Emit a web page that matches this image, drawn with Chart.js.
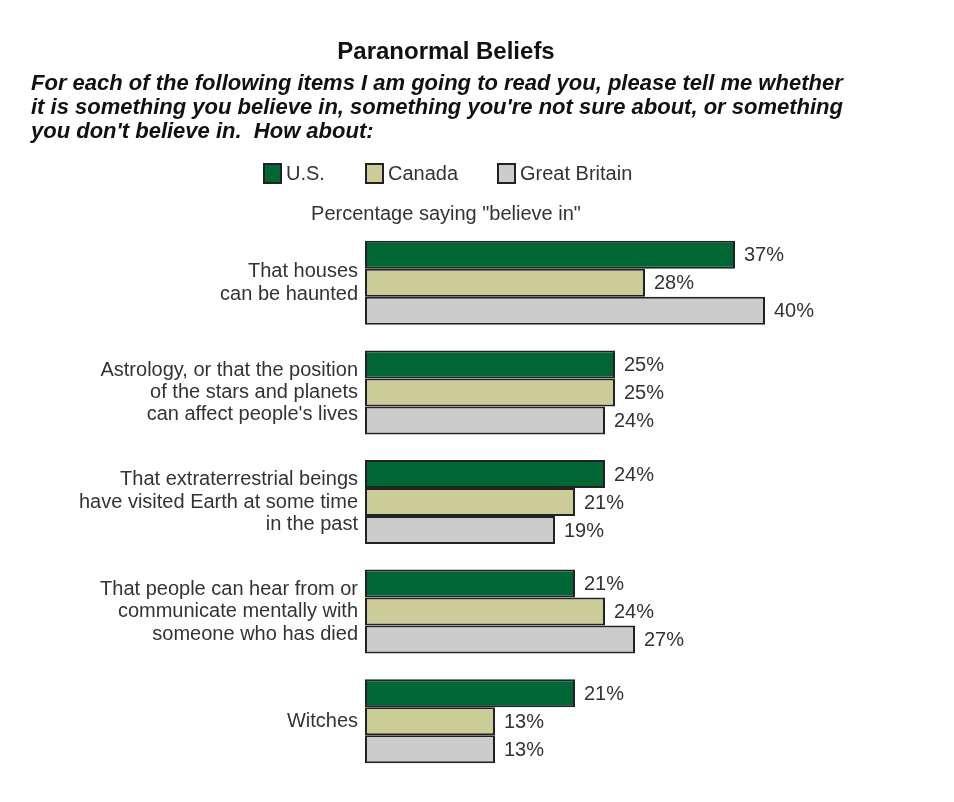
<!DOCTYPE html>
<html>
<head>
<meta charset="utf-8">
<script src="https://cdn.jsdelivr.net/npm/chart.js@4/dist/chart.umd.min.js"></script>
<style>
  body { margin: 0; background: #fff; }
  canvas { display: block; }
</style>
</head>
<body>
<canvas id="chart" width="954" height="802"></canvas>
<script>
// data
var categories = [
  ["That houses", "can be haunted"],
  ["Astrology, or that the position", "of the stars and planets", "can affect people's lives"],
  ["That extraterrestrial beings", "have visited Earth at some time", "in the past"],
  ["That people can hear from or", "communicate mentally with", "someone who has died"],
  ["Witches"]
];
var seriesNames = ["U.S.", "Canada", "Great Britain"];
var usValues = [37, 25, 24, 21, 21];
var canadaValues = [28, 25, 21, 24, 13];
var britainValues = [40, 24, 19, 27, 13];

var titleText = "Paranormal Beliefs";
var questionLines = [
  "For each of the following items I am going to read you, please tell me whether",
  "it is something you believe in, something you're not sure about, or something",
  "you don't believe in.  How about:"
];
var noteText = 'Percentage saying "believe in"';

var colours = ["#006633", "#cccc99", "#cccccc"];
var edge = "#222222";
var textColour = "#333333";
var font = "'Liberation Sans', Arial, sans-serif";

// header, legend and value labels
var extras = {
  id: 'extras',
  afterDraw: function(chart) {
    var ctx = chart.ctx;
    ctx.save();
    ctx.textBaseline = 'middle';

    ctx.fillStyle = '#111';
    ctx.textAlign = 'center';
    ctx.font = "bold 24px " + font;
    ctx.fillText(titleText, 446, 52);

    ctx.textAlign = 'left';
    ctx.font = "italic bold 22px " + font;
    for (var i = 0; i < questionLines.length; i++) {
      ctx.fillText(questionLines[i], 31, 84 + i * 24);
    }

    // legend
    var legendX = [263, 365, 497];
    ctx.font = "20px " + font;
    for (var s = 0; s < seriesNames.length; s++) {
      ctx.fillStyle = colours[s];
      ctx.fillRect(legendX[s], 163, 19, 21);
      ctx.strokeStyle = edge;
      ctx.lineWidth = 2;
      ctx.strokeRect(legendX[s] + 1, 164, 17, 19);
      ctx.fillStyle = textColour;
      ctx.fillText(seriesNames[s], legendX[s] + 23, 174);
    }

    ctx.textAlign = 'center';
    ctx.font = "20px " + font;
    ctx.fillStyle = textColour;
    ctx.fillText(noteText, 446, 214);

    // value labels
    ctx.textAlign = 'left';
    ctx.font = "20px " + font;
    chart.data.datasets.forEach(function(ds, d) {
      chart.getDatasetMeta(d).data.forEach(function(bar, j) {
        ctx.fillText(ds.data[j] + "%", bar.x + 9, bar.y + 1);
      });
    });
    ctx.restore();
  }
};

var datasets = [usValues, canadaValues, britainValues].map(function(vals, i) {
  return {
    label: seriesNames[i],
    data: vals,
    backgroundColor: colours[i],
    borderColor: edge,
    borderWidth: 2,
    borderSkipped: false,
    categoryPercentage: 0.766,
    barPercentage: 1.0
  };
});

new Chart(document.getElementById("chart"), {
  type: 'bar',
  data: { labels: categories, datasets: datasets },
  options: {
    indexAxis: 'y',
    responsive: false,
    animation: false,
    devicePixelRatio: 1,
    layout: { padding: { top: 228, bottom: 26, right: 89, left: 0 } },
    plugins: {
      legend: { display: false },
      tooltip: { enabled: false }
    },
    scales: {
      x: { display: false, min: 0, max: 50 },
      y: {
        grid: { display: false, drawTicks: false },
        border: { display: false },
        ticks: {
          color: textColour,
          padding: 7,
          font: { family: font, size: 20, lineHeight: 1.12 }
        },
        afterFit: function(scale) {
          scale.width = 365;
          scale.paddingTop = 0;
          scale.paddingBottom = 0;
        }
      }
    }
  },
  plugins: [extras]
});
</script>
</body>
</html>
